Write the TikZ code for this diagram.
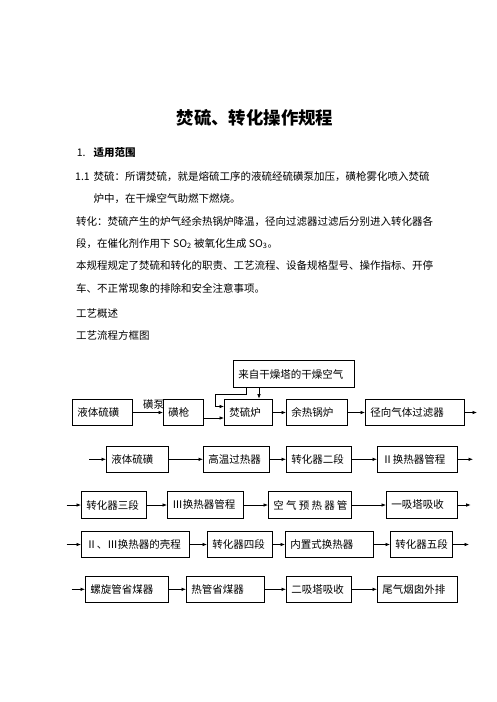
\documentclass[tikz,border=0pt]{standalone}
\usepackage{fontspec}
\setmainfont{Noto Sans CJK SC}
\usetikzlibrary{arrows.meta}
\XeTeXlinebreaklocale "zh"
\XeTeXlinebreakskip=0pt plus 2pt minus 0.5pt
\newcommand\flowbox[6]{\node[box,minimum width=#4pt,text width=#5pt] (#1) at (#2,#3) {\mbox{#6}};}
\newcommand\chsep{\hspace{2.2pt}}
\begin{document}
\begin{tikzpicture}[x=1pt,y=-1pt,
 box/.style={draw,line width=0.9pt,fill=white,minimum height=26.7pt,inner xsep=5pt,inner ysep=0pt,align=left,anchor=west,font=\fontsize{10.5}{12}\selectfont},
 arr/.style={draw,line width=0.7pt,-{Latex[length=4.5pt,width=3.6pt]}},
 txt/.style={anchor=base west,inner sep=0pt,font=\fontsize{10.5}{12}\selectfont}]
\path[use as bounding box] (0,0) rectangle (496,702);

\node[font=\fontsize{17.4}{20}\selectfont\bfseries,inner sep=0pt] (title) at (255,118) {焚硫、转化操作规程};
\node[txt] (n1) at (76.7,156.3) {1.};
\node[txt,font=\fontsize{10.5}{12}\selectfont\bfseries] (n1t) at (93.3,156.3) {适用范围};
\node[txt] (n11) at (75,180.7) {1.1};
\node[txt] (l1) at (93.3,180.7) {\hbox to 343.4pt{焚硫：所谓焚硫，就是熔硫工序的液硫经硫磺泵加压，磺枪雾化喷入焚硫}};
\node[txt] (l2) at (93.3,202.3) {炉中，在干燥空气助燃下燃烧。};
\node[txt] (l3) at (76,225.7) {\hbox to 372pt{转化：焚硫产生的炉气经余热锅炉降温，径向过滤器过滤后分别进入转化器各}};
\node[txt] (l4) at (76,247.3) {段，在催化剂作用下 SO\textsubscript{2} 被氧化生成 SO\textsubscript{3}。};
\node[txt] (l5) at (76,269) {\hbox to 372pt{本规程规定了焚硫和转化的职责、工艺流程、设备规格型号、操作指标、开停}};
\node[txt] (l6) at (76,292.3) {车、不正常现象的排除和安全注意事项。};
\node[txt] (l7) at (76,317.3) {工艺概述};
\node[txt] (l8) at (76,339) {工艺流程方框图};

% row 1
\node[txt] (pump) at (143,408) {磺泵};
\flowbox{r1a}{72}{412.5}{60}{50}{液体硫磺}
\flowbox{r1b}{163}{412.5}{40}{30}{磺枪}
\flowbox{r1c}{224}{412.5}{48}{38}{焚硫炉}
\flowbox{r1d}{286}{412.5}{61}{51}{余热锅炉}
\flowbox{r1e}{365}{412.5}{99}{89}{径向气体过滤器}
\flowbox{air}{233}{374}{121}{111}{来自干燥塔的干燥空气}
\coordinate (o1) at (477,412.5);
\draw[arr] (r1a) -- (r1b);
\draw[arr] ([yshift=-5.5pt]r1b.east) -- ([yshift=-5.5pt]r1c.west);
\draw[arr] ([xshift=26pt]air.south west) -- ([xshift=26pt]air.south west |- r1c.north);
\draw[arr] ([xshift=13.5pt]air.south west) -- ++(0,7) -| ([xshift=-8.3pt,yshift=6pt]r1c.west) -- ([yshift=6pt]r1c.west);
\draw[arr] (r1c) -- (r1d);
\draw[arr] (r1d) -- (r1e);
\draw[arr] (r1e) -- (o1);

% row 2
\flowbox{r2a}{106}{459.3}{62}{52}{液体硫磺}
\flowbox{r2b}{203}{459.3}{66}{56}{高温过热器}
\flowbox{r2c}{286}{459.3}{65}{55}{转化器二段}
\flowbox{r2d}{377}{459.3}{80}{70}{Ⅱ换热器管程}
\coordinate (i2) at (89,459.3);
\coordinate (o2) at (473,459.3);
\draw[arr] (i2) -- (r2a);
\draw[arr] (r2a) -- (r2b);
\draw[arr] (r2b) -- (r2c);
\draw[arr] (r2c) -- (r2d);
\draw[arr] (r2d) -- (o2);

% row 3
\flowbox{r3a}{81}{505}{65}{55}{转化器三段}
\flowbox{r3b}{167}{505}{76}{66}{Ⅲ换热器管程}
\flowbox{r3c}{268}{505}{83}{73}{空\chsep 气\chsep 预\chsep 热\chsep 器\chsep 管}
\flowbox{r3d}{386}{505}{71}{61}{一吸塔吸收}
\coordinate (i3) at (66.7,505);
\coordinate (o3) at (470.7,505);
\draw[arr] (i3) -- (r3a);
\draw[arr] (r3a) -- (r3b);
\draw[arr] (r3b) -- (r3c);
\draw[arr] (r3c) -- (r3d);
\draw[arr] (r3d) -- (o3);

% row 4
\flowbox{r4a}{81}{544.5}{108}{98}{Ⅱ、Ⅲ换热器的壳程}
\flowbox{r4b}{207}{544.5}{65}{55}{转化器四段}
\flowbox{r4c}{285}{544.5}{88}{78}{内置式换热器}
\flowbox{r4d}{390}{544.5}{62}{52}{转化器五段}
\coordinate (i4) at (66.7,544.5);
\coordinate (o4) at (469,544.5);
\draw[arr] (i4) -- (r4a);
\draw[arr] (r4a) -- (r4b);
\draw[arr] (r4b) -- (r4c);
\draw[arr] (r4c) -- (r4d);
\draw[arr] (r4d) -- (o4);

% row 5
\flowbox{r5a}{85}{589.3}{83}{73}{螺旋管省煤器}
\flowbox{r5b}{186}{589.3}{78}{68}{热管省煤器}
\flowbox{r5c}{286}{589.3}{65}{55}{二吸塔吸收}
\flowbox{r5d}{377}{589.3}{80}{70}{尾气烟囱外排}
\coordinate (i5) at (71.7,589.3);
\draw[arr] (i5) -- (r5a);
\draw[arr] (r5a) -- (r5b);
\draw[arr] (r5b) -- (r5c);
\draw[arr] (r5c) -- (r5d);
\end{tikzpicture}
\end{document}
